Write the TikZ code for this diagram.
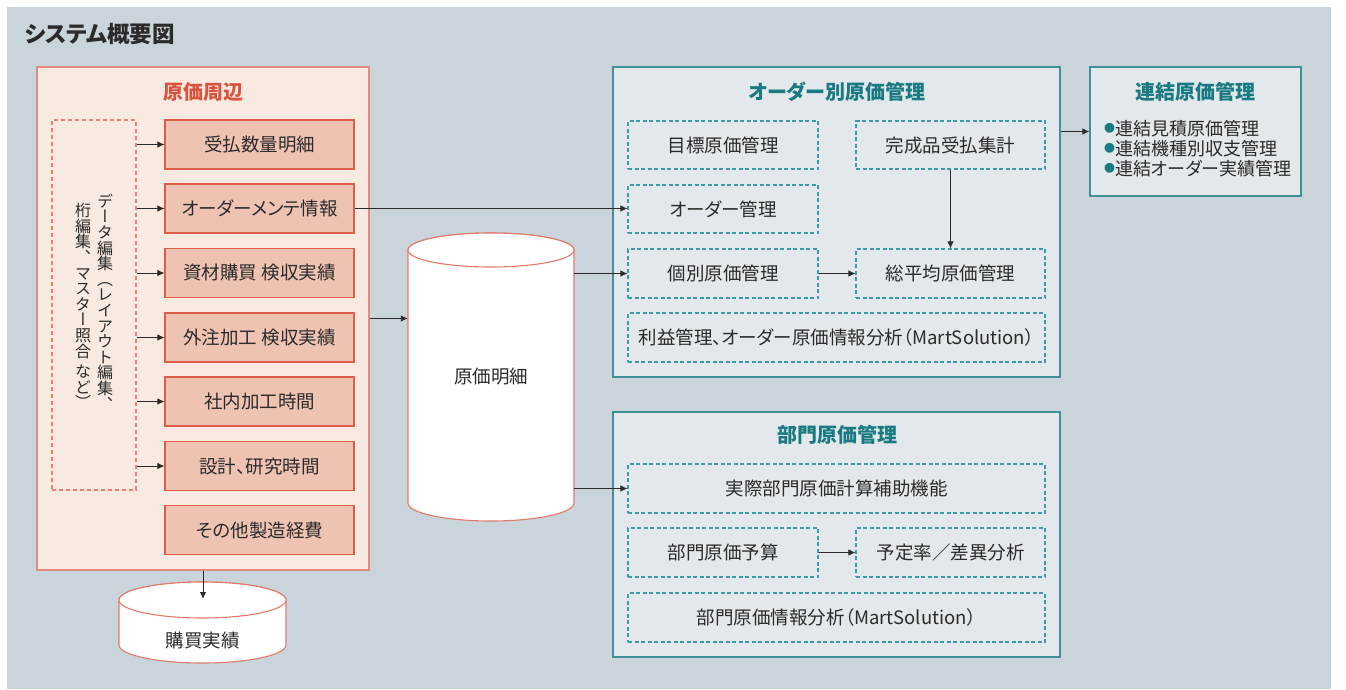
\documentclass[tikz,border=0pt]{standalone}
\usepackage{fontspec}
\setmainfont{Noto Sans CJK JP}[RawFeature=+palt]
\newfontfamily\cjkv{Noto Sans CJK JP}[RawFeature=+vert]
\usetikzlibrary{arrows.meta,calc}
\definecolor{bgc}{HTML}{C9D4DB}
\definecolor{pinkfill}{HTML}{F8E9E1}
\definecolor{pinkline}{HTML}{E08D80}
\definecolor{boxfill}{HTML}{EFC3B2}
\definecolor{boxline}{HTML}{DE5D48}
\definecolor{pinkdash}{HTML}{E8826F}
\definecolor{redtitle}{HTML}{D9543F}
\definecolor{tealfill}{HTML}{E2E8EB}
\definecolor{tealline}{HTML}{3F9198}
\definecolor{tealtitle}{HTML}{1A7A82}
\definecolor{tealdash}{HTML}{3D9AA6}
\definecolor{cylline}{HTML}{E07A6A}
\definecolor{txt}{HTML}{2B2B2B}
\newcommand{\bul}{{\color{tealtitle}\raisebox{2.5pt}{\fontsize{11}{11}\selectfont ●}}}
\tikzset{
  every node/.style={text=txt},
  arr/.style={draw=txt, line width=0.9pt, -{Latex[length=7pt,width=6.5pt]}},
  pinkbox/.style={draw=boxline, fill=boxfill, line width=1.1pt, minimum width=189pt, minimum height=49pt, inner sep=0pt, font=\fontsize{18.5}{20}\selectfont},
  tealbox/.style={draw=tealdash, line width=1.1pt, dash pattern=on 4pt off 2.5pt, inner sep=0pt, font=\fontsize{18.5}{20}\selectfont},
  outerteal/.style={draw=tealline, fill=tealfill, line width=1.2pt, inner sep=0pt},
  ttitle/.style={text=tealtitle, font=\fontsize{20}{22}\selectfont\bfseries},
  cyl/.style={draw=cylline, fill=white, line width=1.1pt},
  vtext/.style={align=center, inner sep=0pt, font=\fontsize{16}{15.6}\selectfont\cjkv}
}
\begin{document}
\begin{tikzpicture}[x=1pt,y=-1pt]
\useasboundingbox (0,0) rectangle (1346,689);
\fill[bgc] (7,7) rectangle (1331,689);
\node[anchor=west, font=\fontsize{22.5}{24}\selectfont\bfseries] (title) at (21,34) {システム概要図};

% ---- left pink group
\node[draw=pinkline, fill=pinkfill, line width=1.2pt, minimum width=332pt, minimum height=503pt, inner sep=0pt] (outer) at (203,318.5) {};
\node[text=redtitle, font=\fontsize{20}{22}\selectfont\bfseries] (ptitle) at (203,92) {原価周辺};
\node[draw=pinkdash, line width=1.1pt, dash pattern=on 4pt off 3pt, minimum width=84pt, minimum height=370pt, inner sep=0pt] (edit) at (94,305) {};
\node[vtext] (vr) at (105,302) {デ\\ー\\タ\\編\\集\\（\\レ\\イ\\ア\\ウ\\ト\\編\\集\\、};
\node[vtext] (vl) at (83,306) {桁\\編\\集\\、\\マ\\ス\\タ\\ー\\照\\合\\[5pt]な\\ど\\）};

\node[pinkbox] (b1) at (259.5,144.5) {受払数量明細};
\node[pinkbox] (b2) at (259.5,208.5) {オーダーメンテ情報};
\node[pinkbox] (b3) at (259.5,273) {資材購買\ 検収実績};
\node[pinkbox] (b4) at (259.5,337.5) {外注加工\ 検収実績};
\node[pinkbox] (b5) at (259.5,401.5) {社内加工時間};
\node[pinkbox] (b6) at (259.5,466) {設計、研究時間};
\node[pinkbox] (b7) at (259.5,530) {その他製造経費};
\foreach \b in {b1,b2,b3,b4,b5,b6}
  \draw[arr] (edit.east |- \b.west) -- (\b.west);

% ---- cylinder 購買実績
\draw[cyl] (119,600) -- (119,645) arc[start angle=180,end angle=0,x radius=83.5,y radius=18] -- (286,600) arc[start angle=0,end angle=-180,x radius=83.5,y radius=18] -- cycle;
\draw[cyl] (202.5,600) ellipse[x radius=83.5,y radius=18];
\node[font=\fontsize{18.5}{20}\selectfont] (kobai) at (202.5,640) {購買実績};
\coordinate (kobaitop) at (203,599);
\draw[arr] (outer.south) -- (kobaitop);

% ---- cylinder 原価明細
\draw[cyl] (408,250) -- (408,503) arc[start angle=180,end angle=0,x radius=83,y radius=18] -- (574,250) arc[start angle=0,end angle=-180,x radius=83,y radius=17] -- cycle;
\draw[cyl] (491,250) ellipse[x radius=83,y radius=17];
\node[inner sep=0pt, minimum width=166pt, minimum height=253pt] (gmbody) at (491,376.5) {};
\node[font=\fontsize{18.5}{20}\selectfont] (gm) at (491,377) {原価明細};

% ---- order box
\node[outerteal, minimum width=447pt, minimum height=310pt] (order) at (836.5,222) {};
\node[ttitle] (otitle) at (837,92) {オーダー別原価管理};
\node[tealbox, minimum width=190pt, minimum height=48pt] (mokuhyo) at (723,145) {目標原価管理};
\node[tealbox, minimum width=189pt, minimum height=48pt] (kansei) at (950.5,145) {完成品受払集計};
\node[tealbox, minimum width=190pt, minimum height=48pt] (okanri) at (723,209) {オーダー管理};
\node[tealbox, minimum width=190pt, minimum height=49pt] (kobetsu) at (723,273.5) {個別原価管理};
\node[tealbox, minimum width=189pt, minimum height=49pt] (sohei) at (950.5,273.5) {総平均原価管理};
\node[tealbox, minimum width=417pt, minimum height=49pt] (rieki) at (836.5,337.5) {利益管理、オーダー原価情報分析（MartSolution）};
\draw[arr] (kansei.south) -- (sohei.north);
\draw[arr] (kobetsu.east) -- (sohei.west);

% ---- consolidated box
\node[outerteal, minimum width=211pt, minimum height=129pt] (renketsu) at (1195.5,131.5) {};
\node[ttitle] (rtitle) at (1195,92) {連結原価管理};
\node[anchor=north west, align=left, inner sep=0pt, font=\fontsize{18}{20}\selectfont] (rlist) at (1104,120)
  {\bul 連結見積原価管理\\\bul 連結機種別収支管理\\\bul 連結オーダー実績管理};
\draw[arr] (renketsu.west -| order.east) -- (renketsu.west);

% ---- department box
\node[outerteal, minimum width=447pt, minimum height=245pt] (dept) at (836.5,534.5) {};
\node[ttitle] (dtitle) at (837,435) {部門原価管理};
\node[tealbox, minimum width=417pt, minimum height=49pt] (jissai) at (836.5,488.5) {実際部門原価計算補助機能};
\node[tealbox, minimum width=190pt, minimum height=49pt] (yosan) at (723,552.5) {部門原価予算};
\node[tealbox, minimum width=189pt, minimum height=49pt] (yotei) at (950.5,552.5) {予定率／差異分析};
\node[tealbox, minimum width=417pt, minimum height=49pt] (bumon) at (836.5,617.5) {部門原価情報分析（MartSolution）};
\draw[arr] (yosan.east) -- (yotei.west);

% ---- cross connectors
\draw[arr] (b2.east) -- (b2.east -| okanri.west);
\draw[arr] (outer.east) -- (outer.east -| gmbody.west);
\draw[arr] (kobetsu.west -| gmbody.east) -- (kobetsu.west);
\draw[arr] (jissai.west -| gmbody.east) -- (jissai.west);
\end{tikzpicture}
\end{document}
